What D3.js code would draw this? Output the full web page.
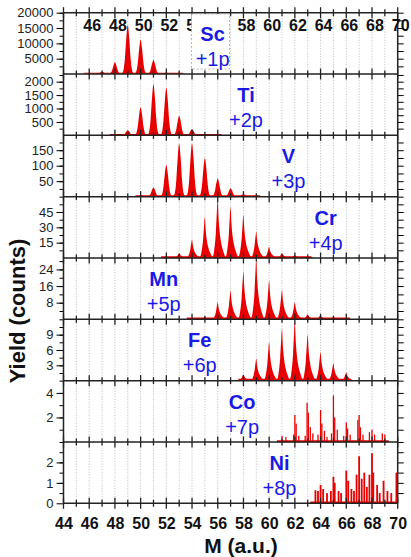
<!DOCTYPE html>
<html>
<head>
<meta charset="utf-8">
<script src="https://cdn.jsdelivr.net/npm/d3@7"></script>
<style>
body { margin: 0; background: #fff; }
text { font-family: Arial, "Liberation Sans", sans-serif; }
</style>
</head>
<body>
<svg id="chart" width="411" height="557"></svg>
<script>
// ---- data, one panel per element (top to bottom) ----
var elements = ['Sc', 'Ti', 'V', 'Cr', 'Mn', 'Fe', 'Co', 'Ni'];
var protons = ['+1p', '+2p', '+3p', '+4p', '+5p', '+6p', '+7p', '+8p'];
var yMax = [20000, 2285, 198, 60, 29.5, 12, 5, 3];
var yLabels = [
    [5000, 10000, 15000, 20000],
    [500, 1000, 1500, 2000],
    [50, 100, 150],
    [15, 30, 45],
    [8, 16, 24],
    [3, 6, 9],
    [2, 4],
    [0, 1, 2]
];
var yMinor = [2500, 250, 25, 7.5, 4, 1.5, 1, 0.5];
var massTicks = [44, 46, 48, 50, 52, 54, 56, 58, 60, 62, 64, 66, 68, 70];

// [mass, yield] peaks
var scPeaks = [[46, 100], [47, 750], [48, 3800], [49, 16000], [50, 11200], [51, 4600], [52, 500], [53, 100]];
var tiPeaks = [[48, 30], [49, 190], [50, 1050], [51, 1900], [52, 1770], [53, 730], [54, 230], [55, 60], [56, 20]];
var vPeaks = [[50, 5], [51, 30], [52, 102], [53, 172], [54, 172], [55, 124], [56, 59], [57, 27], [58, 8], [59, 3]];
var crPeaks = [[52, 1], [53, 5], [54, 18], [55, 40], [56, 58], [57, 50], [58, 42], [59, 26], [60, 11], [61, 5], [62, 3], [63, 2]];
var mnPeaks = [[54, 0.5], [55, 1.2], [56, 8.2], [57, 13.8], [58, 22.8], [59, 29], [60, 18.5], [61, 14], [62, 8.2], [63, 2.5], [64, 2], [65, 1.2], [66, 0.6]];
var fePeaks = [[58, 1.2], [59, 4.3], [60, 7.5], [61, 10.1], [62, 11.6], [63, 9], [64, 5.6], [65, 3.4], [66, 1.6]];
// spiky spectra: [mass, yield] spikes
var coSpikes = [[61.0, 0.5], [61.3, 0.4], [61.9, 0.6], [62.0, 2.2], [62.1, 1.5], [62.3, 0.5], [62.8, 0.5], [62.95, 3.2], [63.05, 2.4],
    [63.2, 1.2], [63.4, 0.7], [63.8, 0.6], [64.0, 2.6], [64.1, 1.5], [64.3, 0.9], [64.5, 0.4], [64.85, 0.7], [65.0, 3.8],
    [65.1, 2.0], [65.3, 1.0], [65.8, 0.5], [66.0, 1.6], [66.1, 1.1], [66.3, 0.6], [66.9, 1.8], [67.0, 2.2], [67.1, 1.2],
    [67.3, 0.6], [67.8, 0.8], [68.0, 1.0], [68.2, 0.6], [68.8, 0.7], [69.0, 0.6]];
var niSpikes = [[63.6, 0.64], [63.8, 0.6], [64.0, 0.9], [64.2, 0.7], [64.5, 0.5], [64.8, 0.6], [65.0, 1.3], [65.1, 1.0], [65.4, 0.6],
    [65.6, 0.5], [66.0, 1.6], [66.15, 1.1], [66.4, 0.7], [66.6, 0.6], [66.8, 1.4], [67.0, 2.3], [67.2, 1.2], [67.4, 1.5],
    [67.6, 0.8], [67.8, 1.4], [68.0, 2.45], [68.1, 1.5], [68.4, 0.9], [68.6, 0.5], [68.9, 1.1], [69.2, 0.6], [69.5, 0.5],
    [69.9, 1.5], [70.0, 1.0]];

var peaks = [scPeaks, tiPeaks, vPeaks, crPeaks, mnPeaks, fePeaks, null, null];
var spikes = [null, null, null, null, null, null, coSpikes, niSpikes];
// label centre (in mass units) for each panel
var labelMass = [55.6, 58.2, 61.5, 64.4, 51.8, 54.6, 57.9, 60.8];

// ---- layout ----
var svg = d3.select('#chart');
var plotL = 63.5, plotR = 397.7, plotT = 12.7, plotB = 503.3;
var ph = (plotB - plotT) / elements.length;
var red = '#e80000', blue = '#1a1ae6';
var font = 'Arial, "Liberation Sans", sans-serif';

var x = d3.scaleLinear().domain([44, 70]).range([plotL, plotR]);

// peak outlines, offsets in mass and fraction of height
var shape = [[-0.48, 0], [-0.34, 0.07], [-0.22, 0.32], [-0.11, 0.74], [0, 1], [0.11, 0.74], [0.22, 0.32], [0.34, 0.07], [0.48, 0]];
// noisier panels have a longer right-hand tail
var tailShape = [[-0.42, 0], [-0.28, 0.12], [-0.14, 0.45], [-0.05, 0.85], [0, 1], [0.06, 0.7], [0.16, 0.42], [0.3, 0.22], [0.45, 0.1], [0.6, 0]];

// dotted grid at each mass unit
svg.append('g').selectAll('line')
    .data(d3.range(45, 70))
    .enter().append('line')
    .attr('x1', function(d) { return x(d); })
    .attr('x2', function(d) { return x(d); })
    .attr('y1', plotT).attr('y2', plotB)
    .attr('stroke', '#b8b8b8')
    .attr('stroke-width', 0.8)
    .attr('stroke-dasharray', '1.2,1.5');

svg.append('defs').append('clipPath').attr('id', 'clip')
    .append('rect').attr('x', plotL).attr('y', plotT).attr('width', plotR - plotL).attr('height', plotB - plotT);

elements.forEach(function(el, i) {
    var y0 = plotT + i * ph;
    var y = d3.scaleLinear().domain([0, yMax[i]]).range([y0 + ph, y0]);
    var g = svg.append('g').attr('clip-path', 'url(#clip)');

    if (peaks[i]) {
        var prof = i >= 3 ? tailShape : shape;
        var area = d3.area()
            .x(function(d) { return x(d.m); })
            .y0(y(0))
            .y1(function(d) { return Math.max(y(d.h), y0); })
            .curve(d3.curveMonotoneX);
        g.selectAll('path')
            .data(peaks[i])
            .enter().append('path')
            .attr('fill', red)
            .attr('d', function(p) {
                return area(prof.map(function(s) { return {m: p[0] + s[0], h: p[1] * s[1]}; }));
            });
    }
    if (spikes[i]) {
        var w = i == 7 ? 0.14 : 0.1;
        g.selectAll('rect')
            .data(spikes[i])
            .enter().append('rect')
            .attr('fill', red)
            .attr('x', function(d) { return x(d[0] - w / 2); })
            .attr('width', x(44 + w) - x(44))
            .attr('y', function(d) { return y(d[1]); })
            .attr('height', function(d) { return y(0) - y(d[1]); });
    }
    // thin baseline trace under the data
    var ext = d3.extent((peaks[i] || spikes[i]).map(function(d) { return d[0]; }));
    g.append('line')
        .attr('x1', x(ext[0] - 0.4)).attr('x2', x(ext[1] + 0.3))
        .attr('y1', y(0) - 0.8).attr('y2', y(0) - 0.8)
        .attr('stroke', red).attr('stroke-width', i >= 3 ? 2 : 1.2);

    // left axis: minor + labelled ticks
    var minor = d3.range(0, yMax[i] + 1e-9, yMinor[i]).filter(function(v) { return v > 0; });
    svg.append('g').attr('transform', 'translate(' + plotL + ',0)')
        .call(d3.axisLeft(y).tickValues(minor).tickSize(4).tickFormat(''))
        .call(function(a) { a.select('.domain').remove(); a.selectAll('text').remove(); });
    svg.append('g').attr('transform', 'translate(' + plotL + ',0)')
        .call(d3.axisLeft(y).tickValues(yLabels[i]).tickSize(7).tickPadding(3).tickFormat(d3.format('d')))
        .call(function(a) {
            a.select('.domain').remove();
            a.selectAll('text').attr('font-size', 13).attr('fill', '#222').attr('font-family', font);
        });
    // right axis, unlabelled
    svg.append('g').attr('transform', 'translate(' + plotR + ',0)')
        .call(d3.axisRight(y).tickValues(minor).tickSize(6).tickFormat(''))
        .call(function(a) { a.select('.domain').remove(); a.selectAll('text').remove(); });
});

// frame: left + right verticals, panel boundaries with ticks both ways
svg.append('line').attr('x1', plotL).attr('x2', plotL).attr('y1', plotT).attr('y2', plotB)
    .attr('stroke', '#222').attr('stroke-width', 1.5);
svg.append('line').attr('x1', plotR).attr('x2', plotR).attr('y1', plotT).attr('y2', plotB)
    .attr('stroke', '#222').attr('stroke-width', 1.5);

var bounds = d3.range(elements.length + 1).map(function(k) { return plotT + k * ph; });
bounds.forEach(function(by) {
    var b = svg.append('g');
    b.append('line').attr('x1', plotL).attr('x2', plotR).attr('y1', by).attr('y2', by)
        .attr('stroke', '#222').attr('stroke-width', 1.5);
    b.selectAll('.tk').data(d3.range(44, 71)).enter().append('line')
        .attr('x1', function(d) { return x(d); })
        .attr('x2', function(d) { return x(d); })
        .attr('y1', function(d) { return by - (d % 2 ? 3.5 : 5.5); })
        .attr('y2', function(d) { return by + (d % 2 ? 3.5 : 5.5); })
        .attr('stroke', '#222').attr('stroke-width', 1.3);
});

// mass labels: bottom axis and inside the top panel
svg.append('g').attr('transform', 'translate(0,' + plotB + ')')
    .call(d3.axisBottom(x).tickValues(massTicks).tickSize(0).tickPadding(14).tickFormat(d3.format('d')))
    .call(function(a) {
        a.select('.domain').remove();
        a.selectAll('text').attr('font-size', 16).attr('font-weight', 'bold').attr('fill', '#111').attr('font-family', font);
    });
svg.append('g').attr('transform', 'translate(2.5,' + plotT + ')')
    .call(d3.axisBottom(x).tickValues(massTicks.slice(1)).tickSize(0).tickPadding(6.5).tickFormat(d3.format('d')))
    .call(function(a) {
        a.select('.domain').remove();
        a.selectAll('text').attr('font-size', 16).attr('font-weight', 'bold').attr('fill', '#111').attr('font-family', font);
    });

// white dashed box behind the Sc label
svg.append('rect').attr('x', 191.5).attr('y', 14).attr('width', 38).attr('height', 55)
    .attr('fill', '#fff').attr('stroke', '#aaa').attr('stroke-width', 0.8).attr('stroke-dasharray', '2,2');

// element labels
elements.forEach(function(el, i) {
    var y0 = plotT + i * ph, lx = x(labelMass[i]);
    svg.append('text').attr('x', lx).attr('y', y0 + 21)
        .attr('text-anchor', 'middle').attr('dominant-baseline', 'central')
        .attr('font-size', 20).attr('font-weight', 'bold').attr('fill', blue)
        .text(el);
    svg.append('text').attr('x', lx).attr('y', y0 + 46)
        .attr('text-anchor', 'middle').attr('dominant-baseline', 'central')
        .attr('font-size', 20).attr('fill', blue)
        .text(protons[i]);
});

// axis titles
svg.append('text').attr('transform', 'translate(17,311) rotate(-90)')
    .attr('text-anchor', 'middle').attr('dominant-baseline', 'central')
    .attr('font-size', 22).attr('font-weight', 'bold').attr('fill', '#111')
    .text('Yield (counts)');
svg.append('text').attr('x', 241).attr('y', 545)
    .attr('text-anchor', 'middle').attr('dominant-baseline', 'central')
    .attr('font-size', 21).attr('font-weight', 'bold').attr('fill', '#111')
    .text('M (a.u.)');
</script>
</body>
</html>
